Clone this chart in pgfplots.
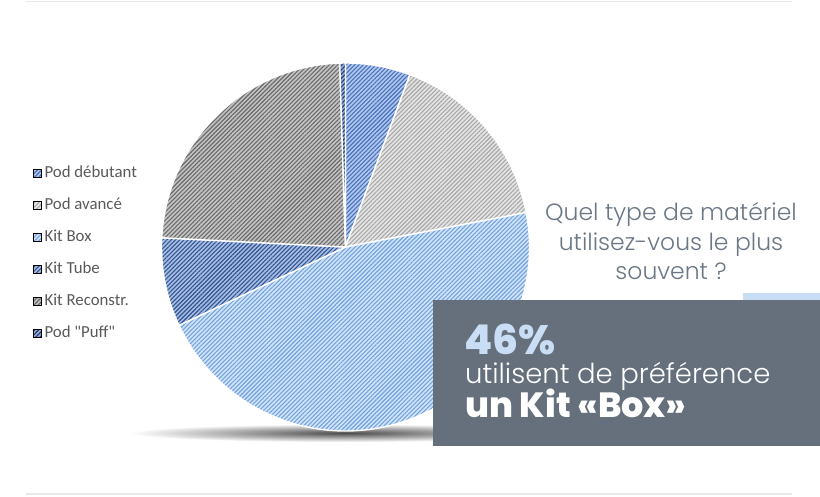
\documentclass[border=0pt]{standalone}
\usepackage{pgfplots}
\pgfplotsset{compat=1.18}
\usepackage{pgfplotstable}
\usetikzlibrary{patterns.meta}
\usepackage{fontspec}
\setmainfont{Carlito}[Ligatures=TeXOff]
\newfontfamily\popl{Poppins Light}
\newfontfamily\popb{Poppins ExtraBold}

\definecolor{c0bg}{HTML}{B4C7E7}\definecolor{c0fg}{HTML}{4472C4}
\definecolor{c1bg}{HTML}{E4E4E4}\definecolor{c1fg}{HTML}{A8A8A8}
\definecolor{c2bg}{HTML}{D3E3F6}\definecolor{c2fg}{HTML}{6FA3E0}
\definecolor{c3bg}{HTML}{A9BDE0}\definecolor{c3fg}{HTML}{2F5597}
\definecolor{c4bg}{HTML}{C4C4C4}\definecolor{c4fg}{HTML}{6A6A6A}
\definecolor{c5bg}{HTML}{8FAADC}\definecolor{c5fg}{HTML}{203864}
\definecolor{legtext}{HTML}{595959}
\definecolor{boxgray}{HTML}{65707C}
\definecolor{lightblue}{HTML}{C9DEF5}
\definecolor{qgray}{HTML}{6B7785}

\tikzset{hatch/.style 2 args={fill=#1, postaction={pattern={Lines[angle=45,distance=3pt,line width=1.1pt]}, pattern color=#2}},
  s0/.style={hatch={c0bg}{c0fg}},
  s1/.style={hatch={c1bg}{c1fg}},
  s2/.style={hatch={c2bg}{c2fg}},
  s3/.style={hatch={c3bg}{c3fg}},
  s4/.style={hatch={c4bg}{c4fg}},
  s5/.style={hatch={c5bg}{c5fg}}}

\pgfplotstableread{
idx value
0 5.7
1 16.3
2 46.0
3 7.8
4 23.7
5 0.5
}\piedata

\def\cum{0}%
\pgfplotsforeachungrouped \i in {0,...,5}{%
  \pgfplotstablegetelem{\i}{value}\of\piedata%
  \pgfmathsetmacro\a{90-3.6*\cum}%
  \pgfmathsetmacro\cum{\cum+\pgfplotsretval}%
  \pgfmathsetmacro\b{90-3.6*\cum}%
  \expandafter\xdef\csname startA\i\endcsname{\a}%
  \expandafter\xdef\csname endA\i\endcsname{\b}%
}%
\newcommand\slice[1]{%
  \path[s#1] (axis cs:345.5,249) -- ++(\csname startA#1\endcsname:184pt)
    arc[start angle=\csname startA#1\endcsname, end angle=\csname endA#1\endcsname, radius=184pt] -- cycle;
  \draw[white, line width=1.4pt] (axis cs:345.5,249) -- ++(\csname startA#1\endcsname:184pt)
    arc[start angle=\csname startA#1\endcsname, end angle=\csname endA#1\endcsname, radius=184pt] -- cycle;}

\begin{document}
\begin{tikzpicture}
\begin{axis}[
  x=1pt, y=1pt, xmin=0, xmax=820, ymin=0, ymax=496,
  hide axis, clip=false,
  legend image code/.code={\path[#1] (0pt,-4pt) rectangle (8pt,4pt);},
  legend style={at={(axis cs:33,331)}, anchor=north west, draw=none, fill=none,
    inner sep=0pt, row sep=16pt, font=\fontsize{16.8}{19}\selectfont\color{legtext},
    nodes={inner sep=0pt, text height=12pt, text depth=4pt}},
  legend cell align=left,
]
\fill[white] (axis cs:0,0) rectangle (axis cs:820,496);
\draw[black!9, line width=1.5pt] (axis cs:26,494.5) -- (axis cs:792,494.5);
\draw[black!9, line width=1.5pt] (axis cs:26,2) -- (axis cs:792,2);
\shade[inner color=black!70, outer color=white] (axis cs:345,63) ellipse [x radius=215pt, y radius=9pt];
\slice{0}\slice{1}\slice{2}\slice{3}\slice{4}\slice{5}
\addlegendimage{s0}\addlegendentry{\hspace{3pt}Pod débutant}
\addlegendimage{s1}\addlegendentry{\hspace{3pt}Pod avancé}
\addlegendimage{s2}\addlegendentry{\hspace{3pt}Kit Box}
\addlegendimage{s3}\addlegendentry{\hspace{3pt}Kit Tube}
\addlegendimage{s4}\addlegendentry{\hspace{3pt}Kit Reconstr.}
\addlegendimage{s5}\addlegendentry{\hspace{3pt}Pod "Puff"}
\fill[lightblue] (axis cs:743,190) rectangle (axis cs:820,203);
\fill[boxgray] (axis cs:433,50) rectangle (axis cs:820,196);
\node[anchor=base, align=center, text=qgray, font=\popl\fontsize{23.5}{29.5}\selectfont, inner sep=0pt]
  at (axis cs:671,216) {Quel type de matériel\\utilisez-vous le plus\\souvent ?};
\node[anchor=base west, inner sep=0pt, text=lightblue, font=\popb\fontsize{41}{44}\selectfont] at (axis cs:464,142) {46\%};
\node[anchor=base west, inner sep=0pt, text=white, font=\popl\fontsize{27.5}{31}\selectfont] at (axis cs:465,112) {utilisent de préférence};
\node[anchor=base west, inner sep=0pt, text=white, font=\popb\fontsize{35}{38}\selectfont] at (axis cs:465,79) {un Kit «Box»};
\end{axis}
\end{tikzpicture}
\end{document}
